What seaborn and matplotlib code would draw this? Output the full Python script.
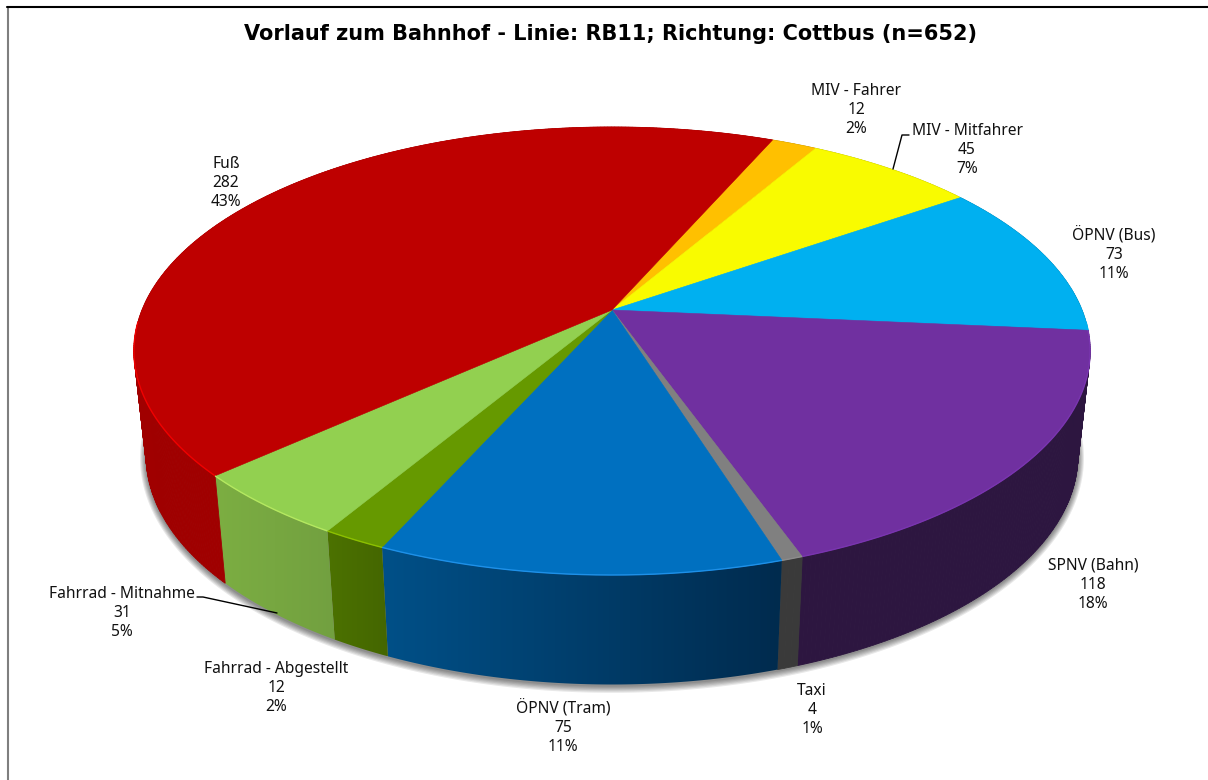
import matplotlib
matplotlib.use("Agg")
import matplotlib.pyplot as plt
from matplotlib.patches import Polygon
import numpy as np
import seaborn as sns

title = "Vorlauf zum Bahnhof - Linie: RB11; Richtung: Cottbus (n=652)"
categories = ["MIV - Fahrer", "MIV - Mitfahrer", "ÖPNV (Bus)", "SPNV (Bahn)", "Taxi",
              "ÖPNV (Tram)", "Fahrrad - Abgestellt", "Fahrrad - Mitnahme", "Fuß"]
counts = [12, 45, 73, 118, 4, 75, 12, 31, 282]
percents = [2, 7, 11, 18, 1, 11, 2, 5, 43]

top_colors = ["#FFC000", "#F9FB00", "#00B0F0", "#7030A0", "#808080",
              "#0070C0", "#669900", "#92D050", "#BE0000"]
side_left = ["#B08500", "#ABAD00", "#007AA6", "#2D1640", "#3A3A3A",
             "#005088", "#4C7200", "#7CAE42", "#A00000"]
side_right = ["#B08500", "#ABAD00", "#007AA6", "#2D1640", "#3A3A3A",
              "#002B4E", "#446600", "#72A040", "#A00000"]
rim_colors = ["#FFC000", "#F9FB00", "#00B0F0", "#7A35B0", "#8C8C8C",
              "#1E90E8", "#8CC000", "#B4E860", "#F00000"]

label_x = [856, 967, 1114, 1093, 812, 563, 276, 122, 226]
label_y = [110, 150, 254, 585, 710, 727, 688, 613, 183]

# perspective of the pie, in pixels
start_angle = 23.5
cx, cy = 612, 310
rx, ry = 470, 216.5
bottom_rx, bottom_ry, bottom_cy = 458, 221, 414
persp = 0.183


def project(theta, cy0, ax_x, ax_y, grow=0.0):
    u, v = np.sin(theta), np.cos(theta)
    w = 1 + persp * v
    return cx + (ax_x + grow) * u / w, cy0 - (ax_y + grow) * v / w


sns.set_theme(style="white")
plt.rcParams["font.family"] = ["Noto Sans", "DejaVu Sans"]
palette = sns.color_palette(top_colors)

fig, ax = plt.subplots(figsize=(12.08, 7.8), dpi=100)
fig.subplots_adjust(0, 0, 1, 1)
ax.axis("off")

# soft shadow under the bottom rim
ring = np.linspace(0, 2 * np.pi, 400)
for i in range(6):
    sx, sy = project(ring, bottom_cy + 1, bottom_rx, bottom_ry, grow=6 - i)
    ax.fill(sx, sy, color="black", alpha=0.09, lw=0, zorder=1)

edges = np.radians(start_angle + np.cumsum([0] + counts) / sum(counts) * 360)

# sides: flat ones as small quads so the silhouette stays right, shaded ones as a clipped gradient
for i in range(len(counts)):
    a0, a1 = edges[i], edges[i + 1]
    th = np.linspace(a0, a1, max(3, int(np.degrees(a1 - a0) * 2)))
    x_t, y_t = project(th, cy, rx, ry)
    x_b, y_b = project(th, bottom_cy, bottom_rx, bottom_ry)
    if side_left[i] == side_right[i]:
        for j in range(len(th) - 1):
            ax.fill([x_t[j], x_t[j + 1], x_b[j + 1], x_b[j]], [y_t[j], y_t[j + 1], y_b[j + 1], y_b[j]],
                    facecolor=side_left[i], edgecolor=side_left[i], lw=0.6, zorder=2)
    else:
        xs = np.r_[x_t, x_b[::-1]]
        ys = np.r_[y_t, y_b[::-1]]
        cmap = matplotlib.colors.LinearSegmentedColormap.from_list("side", [side_left[i], side_right[i]])
        im = ax.imshow(np.linspace(0, 1, 256)[None, :], cmap=cmap, aspect="auto", zorder=2,
                       extent=(xs.min(), xs.max(), ys.max(), ys.min()), interpolation="bilinear")
        im.set_clip_path(Polygon(np.c_[xs, ys], closed=True, transform=ax.transData))

# top faces
for i in range(len(counts)):
    th = np.linspace(edges[i], edges[i + 1], 200)
    x_t, y_t = project(th, cy, rx, ry)
    ax.fill(np.r_[cx, x_t], np.r_[cy, y_t], facecolor=palette[i], edgecolor=palette[i], lw=0.4, zorder=3)
    front = np.cos(th) < -0.05
    ax.plot(x_t[front], y_t[front], color=rim_colors[i], lw=1.0, zorder=4, solid_capstyle="butt")

# leader lines
ax.plot([909, 902, 893], [135, 135, 169], color="black", lw=1, zorder=5)
ax.plot([197, 203, 277], [597, 597, 613], color="black", lw=1, zorder=5)

for name, n, p, x, y in zip(categories, counts, percents, label_x, label_y):
    ax.text(x, y, f"{name}\n{n}\n{p}%", ha="center", va="center", fontsize=11.2,
            color="#111111", linespacing=1.29, zorder=6)

ax.text(611, 34, title, ha="center", va="center", fontsize=15, fontweight="bold", color="black",
        family="DejaVu Sans")

# chart frame
ax.plot([7.5, 7.5], [780, 6.5], color="#7F7F7F", lw=1.5, zorder=7)
ax.plot([7, 1208], [6.5, 6.5], color="black", lw=1.5, zorder=7)

ax.set_xlim(0, 1208)
ax.set_ylim(780, 0)

fig.savefig("out.png", dpi=100)
